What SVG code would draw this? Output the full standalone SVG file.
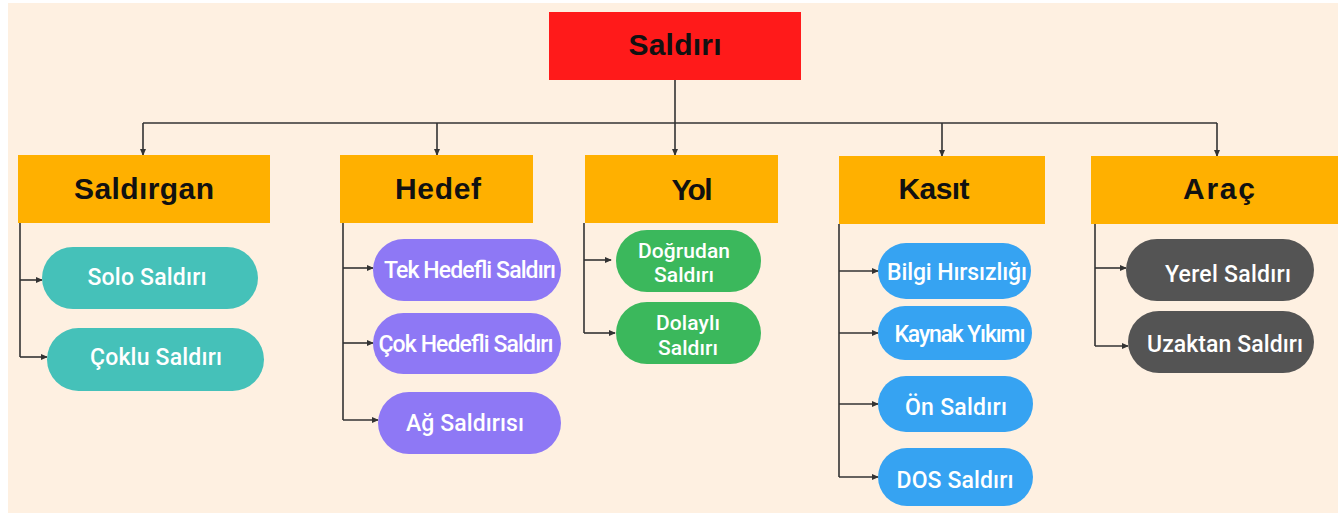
<svg xmlns="http://www.w3.org/2000/svg" width="1338" height="513" viewBox="0 0 1338 513">
<defs>
<marker id="arr" viewBox="0 0 8 8" refX="7" refY="4" markerWidth="7" markerHeight="7" markerUnits="userSpaceOnUse" orient="auto">
<path d="M0,0.5 L8,4 L0,7.5 Z" fill="#333"/>
</marker>
<style>
.bg{fill:#FEF0E1}
.root{fill:#FF1A1A}
.cat{fill:#FFB000}
.ct{font-family:"Liberation Sans",Arial,sans-serif;font-weight:bold;font-size:30px;fill:#111;text-anchor:middle}
.pt{font-family:"Roboto","Liberation Sans",sans-serif;font-weight:500;font-size:23px;fill:#FFFFFF;text-anchor:middle}
.pt2{font-family:"Roboto","Liberation Sans",sans-serif;font-weight:500;font-size:21px;fill:#FFFFFF;text-anchor:middle}
.teal{fill:#45C1B9}
.purple{fill:#8E78F5}
.green{fill:#3BB85C}
.blue{fill:#36A3F2}
.dark{fill:#545454}
.ln{fill:none;stroke:#333;stroke-width:1.6}
</style>
</defs>
<rect x="0" y="0" width="1338" height="513" fill="#FFFFFF"/>
<rect class="bg" x="8" y="3" width="1330" height="510"/>

<g id="connectors">
<path class="ln" d="M675,80 V123"/>
<path class="ln" d="M143,123 H1217"/>
<path class="ln" d="M143,123 V155" marker-end="url(#arr)"/>
<path class="ln" d="M437,123 V155" marker-end="url(#arr)"/>
<path class="ln" d="M675,123 V155" marker-end="url(#arr)"/>
<path class="ln" d="M942,123 V156" marker-end="url(#arr)"/>
<path class="ln" d="M1217,123 V156" marker-end="url(#arr)"/>
<path class="ln" d="M20,223 V357"/>
<path class="ln" d="M20,280 H42" marker-end="url(#arr)"/>
<path class="ln" d="M20,357 H47" marker-end="url(#arr)"/>
<path class="ln" d="M343,223 V420"/>
<path class="ln" d="M343,268 H373" marker-end="url(#arr)"/>
<path class="ln" d="M343,343 H373" marker-end="url(#arr)"/>
<path class="ln" d="M343,420 H378" marker-end="url(#arr)"/>
<path class="ln" d="M584,223 V333"/>
<path class="ln" d="M584,260 H611" marker-end="url(#arr)"/>
<path class="ln" d="M584,333 H615" marker-end="url(#arr)"/>
<path class="ln" d="M839,224 V477"/>
<path class="ln" d="M839,271 H878" marker-end="url(#arr)"/>
<path class="ln" d="M839,333 H878" marker-end="url(#arr)"/>
<path class="ln" d="M839,404 H878" marker-end="url(#arr)"/>
<path class="ln" d="M839,477 H878" marker-end="url(#arr)"/>
<path class="ln" d="M1095,224 V346"/>
<path class="ln" d="M1095,268 H1126" marker-end="url(#arr)"/>
<path class="ln" d="M1095,346 H1128" marker-end="url(#arr)"/>
</g>

<g id="saldiri">
<rect class="root" x="549" y="12" width="252" height="68"/>
<text class="ct" x="675" y="55" font-size="27" textLength="93">Saldırı</text>
</g>

<g id="saldirgan">
<rect class="cat" x="18" y="155" width="252" height="68"/>
<text class="ct" x="144" y="199" textLength="140">Saldırgan</text>
</g>
<g id="hedef">
<rect class="cat" x="340" y="155" width="193" height="68"/>
<text class="ct" x="438" y="199" textLength="86">Hedef</text>
</g>
<g id="yol">
<rect class="cat" x="585" y="155" width="193" height="68"/>
<text class="ct" x="692" y="200" textLength="41">Yol</text>
</g>
<g id="kasit">
<rect class="cat" x="839" y="156" width="206" height="68"/>
<text class="ct" x="934" y="199" textLength="71">Kasıt</text>
</g>
<g id="arac">
<rect class="cat" x="1091" y="156" width="247" height="68"/>
<text class="ct" x="1219" y="199" textLength="72">Araç</text>
</g>

<g id="solo">
<rect class="teal" x="42" y="247" width="216" height="62" rx="31"/>
<text class="pt" x="147" y="285" textLength="119">Solo Saldırı</text>
</g>
<g id="coklu">
<rect class="teal" x="47" y="328" width="217" height="63" rx="31.5"/>
<text class="pt" x="156" y="365" textLength="132">Çoklu Saldırı</text>
</g>

<g id="tek-hedefli">
<rect class="purple" x="373" y="239" width="188" height="62" rx="31"/>
<text class="pt" x="470" y="278" textLength="172">Tek Hedefli Saldırı</text>
</g>
<g id="cok-hedefli">
<rect class="purple" x="373" y="313" width="188" height="61" rx="30.5"/>
<text class="pt" x="466" y="352" textLength="175">Çok Hedefli Saldırı</text>
</g>
<g id="ag-saldirisi">
<rect class="purple" x="378" y="392" width="183" height="62" rx="31"/>
<text class="pt" x="465" y="431" textLength="118">Ağ Saldırısı</text>
</g>

<g id="dogrudan">
<rect class="green" x="616" y="230" width="145" height="62" rx="31"/>
<text class="pt2" x="684" y="258" textLength="92">Doğrudan</text>
<text class="pt2" x="684" y="282" textLength="60">Saldırı</text>
</g>
<g id="dolayli">
<rect class="green" x="616" y="302" width="145" height="62" rx="31"/>
<text class="pt2" x="688" y="330" textLength="64">Dolaylı</text>
<text class="pt2" x="688" y="355" textLength="60">Saldırı</text>
</g>

<g id="bilgi">
<rect class="blue" x="878" y="243" width="153" height="56" rx="28"/>
<text class="pt" x="957" y="280" textLength="140">Bilgi Hırsızlığı</text>
</g>
<g id="kaynak">
<rect class="blue" x="878" y="306" width="154" height="54" rx="27"/>
<text class="pt" x="960" y="342" textLength="131">Kaynak Yıkımı</text>
</g>
<g id="on">
<rect class="blue" x="878" y="376" width="155" height="56" rx="28"/>
<text class="pt" x="956" y="415" textLength="102">Ön Saldırı</text>
</g>
<g id="dos">
<rect class="blue" x="878" y="448" width="155" height="58" rx="29"/>
<text class="pt" x="955" y="488" textLength="117">DOS Saldırı</text>
</g>

<g id="yerel">
<rect class="dark" x="1126" y="239" width="188" height="62" rx="31"/>
<text class="pt" x="1228" y="282" textLength="126">Yerel Saldırı</text>
</g>
<g id="uzaktan">
<rect class="dark" x="1128" y="311" width="186" height="62" rx="31"/>
<text class="pt" x="1225" y="352" textLength="156">Uzaktan Saldırı</text>
</g>
</svg>
